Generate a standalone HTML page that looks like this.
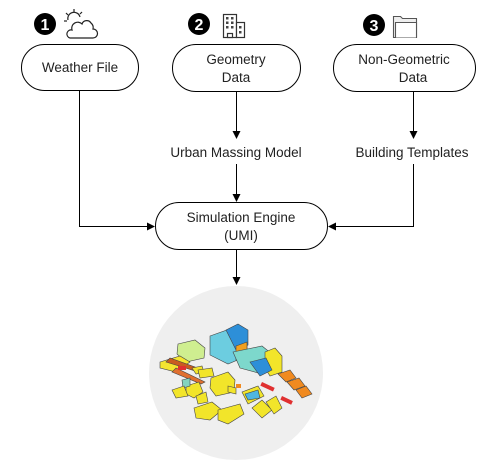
<!DOCTYPE html>
<html><head><meta charset="utf-8"><style>
html,body{margin:0;padding:0;background:#fff;width:486px;height:474px;overflow:hidden}
text{font-family:"Liberation Sans",sans-serif;font-size:13.5px;fill:#222}
</style></head><body>
<svg width="486" height="474" viewBox="0 0 486 474" xmlns="http://www.w3.org/2000/svg">
<defs><marker id="a" markerWidth="8" markerHeight="8" refX="7" refY="4" orient="auto" markerUnits="userSpaceOnUse"><path d="M0,0 L8,4 L0,8 z" fill="#000"/></marker></defs>
<circle cx="45" cy="24" r="11" fill="#000"/><text x="45" y="30" text-anchor="middle" style="fill:#fff;font-weight:bold;font-size:16px">1</text>
<circle cx="199" cy="24" r="11" fill="#000"/><text x="199" y="30" text-anchor="middle" style="fill:#fff;font-weight:bold;font-size:16px">2</text>
<circle cx="374" cy="25" r="11" fill="#000"/><text x="374" y="31" text-anchor="middle" style="fill:#fff;font-weight:bold;font-size:16px">3</text>
<g stroke="#222" fill="none" stroke-width="1.2">
<path d="M68,20 a6,6 0 0 1 12,-3"/><line x1="74" y1="9" x2="74" y2="12"/><line x1="66" y1="13" x2="68" y2="15"/><line x1="82" y1="12" x2="80" y2="14"/><line x1="64" y1="21" x2="67" y2="21"/>
<path d="M70,38 h23 a4.5,4.5 0 0 0 0,-9 a6,6 0 0 0 -2,-6 a5,5 0 0 0 -9,1 a6,6 0 0 0 -10,6 a4,4 0 0 0 -2,8z"/>
</g>
<g fill="#fff" stroke="#333" stroke-width="1.2">
<rect x="223.5" y="14.5" width="13" height="23"/><rect x="236.5" y="22.5" width="8" height="15"/><rect x="227.5" y="33.5" width="5" height="4"/>
</g>
<g fill="#444"><rect x="226" y="17" width="2.5" height="2.5"/><rect x="231" y="17" width="2.5" height="2.5"/><rect x="226" y="21.5" width="2.5" height="2.5"/><rect x="231" y="21.5" width="2.5" height="2.5"/><rect x="226" y="26" width="2.5" height="2.5"/><rect x="231" y="26" width="2.5" height="2.5"/><rect x="239" y="26" width="2.5" height="2.5"/><rect x="239" y="31" width="2.5" height="2.5"/></g>
<path d="M393.5,37.5 v-21 h7 l2,2 h14 v19z" fill="#eee" stroke="#555" stroke-width="1.1"/>
<path d="M395.5,37.5 v-15 h21 v15" fill="#fff" stroke="#555" stroke-width="1.1"/>
<g fill="#fff" stroke="#000" stroke-width="1">
<rect x="21.5" y="44.5" width="117" height="46" rx="23"/>
<rect x="172.5" y="44.5" width="128" height="47" rx="23.5"/>
<rect x="333.5" y="44.5" width="142" height="47" rx="23.5"/>
<rect x="155.5" y="202.5" width="172" height="47" rx="23.5"/>
</g>
<text x="80" y="72" text-anchor="middle">Weather File</text>
<text x="236" y="64" text-anchor="middle">Geometry</text><text x="236" y="82" text-anchor="middle">Data</text>
<text x="404" y="64" text-anchor="middle">Non-Geometric</text><text x="413" y="82" text-anchor="middle">Data</text>
<text x="236" y="157" text-anchor="middle">Urban Massing Model</text>
<text x="412" y="157" text-anchor="middle">Building Templates</text>
<text x="241" y="222" text-anchor="middle">Simulation Engine</text><text x="241" y="240" text-anchor="middle">(UMI)</text>
<g stroke="#000" stroke-width="1" fill="none">
<path d="M79.5,91 V226.5 H154" marker-end="url(#a)"/>
<path d="M236.5,92 V138" marker-end="url(#a)"/>
<path d="M236.5,164 V201" marker-end="url(#a)"/>
<path d="M413.5,92 V138" marker-end="url(#a)"/>
<path d="M413.5,164 V226.5 H329" marker-end="url(#a)"/>
<path d="M236.5,250 V284" marker-end="url(#a)"/>
</g>
<circle cx="236" cy="373" r="87" fill="#efefef"/>
<g stroke="#444" stroke-width="0.6">
<polygon points="210,336 227,330 247,340 247,356 228,364 210,355" fill="#6ccde0"/>
<polygon points="226,330 238,324 248,330 248,345 236,350" fill="#2d8fd8"/>
<polygon points="236,346 247,342 247,360 236,360" fill="#f0a020"/>
<polygon points="178,344 195,340 205,348 204,358 186,362 177,354" fill="#cfee90"/>
<polygon points="160,362 180,356 190,362 176,372 160,368" fill="#f5e430"/>
<polygon points="166,362 205,374 209,372 170,358" fill="#c95c20"/>
<polygon points="172,372 201,384 205,382 176,368" fill="#e07030"/>
<polygon points="233,352 262,346 277,358 262,374 240,368" fill="#7dd8cc"/>
<polygon points="265,352 275,348 282,356 282,372 270,376 265,368" fill="#f2e52a"/>
<polygon points="250,362 266,358 272,370 260,376" fill="#2d8fd8"/>
<polygon points="211,378 228,372 235,380 234,392 216,396 210,388" fill="#f2e52a"/>
<polygon points="186,386 199,382 203,392 194,398 186,394" fill="#f2e52a"/>
<polygon points="182,380 190,378 190,386 183,388" fill="#82d3c0"/>
<polygon points="242,392 258,386 264,396 248,404" fill="#f2e52a"/>
<polygon points="245,394 258,390 260,398 248,400" fill="#4fb6e0"/>
<polygon points="194,408 212,402 222,410 210,420 196,418" fill="#f2e52a"/>
<polygon points="218,410 240,404 244,414 228,424 218,420" fill="#f2e52a"/>
<polygon points="252,408 262,400 272,410 262,418" fill="#f2e52a"/>
<polygon points="266,402 276,396 282,408 274,414" fill="#f2e52a"/>
<polygon points="278,374 290,370 296,378 286,382" fill="#f08a20"/>
<polygon points="287,382 299,378 305,386 294,390" fill="#f08a20"/>
<polygon points="296,390 306,386 312,394 302,398" fill="#f08a20"/>
<polygon points="192,368 202,366 204,372 196,374" fill="#f2e52a"/>
<polygon points="198,370 212,368 214,376 200,378" fill="#f2e52a"/>
<polygon points="172,390 184,386 188,396 176,398" fill="#f2e52a"/>
<polygon points="196,396 206,392 208,402 198,404" fill="#f2e52a"/>
<polygon points="228,386 236,388 236,394 228,392" fill="#f2e52a"/>
</g>
<g fill="#e03030"><rect x="262" y="382" width="14" height="4" transform="rotate(25 262 382)"/><rect x="282" y="396" width="12" height="4" transform="rotate(25 282 396)"/><rect x="236" y="384" width="5" height="4" fill="#f08a20"/><rect x="178" y="366" width="8" height="4"/></g>
</svg>
</body></html>
